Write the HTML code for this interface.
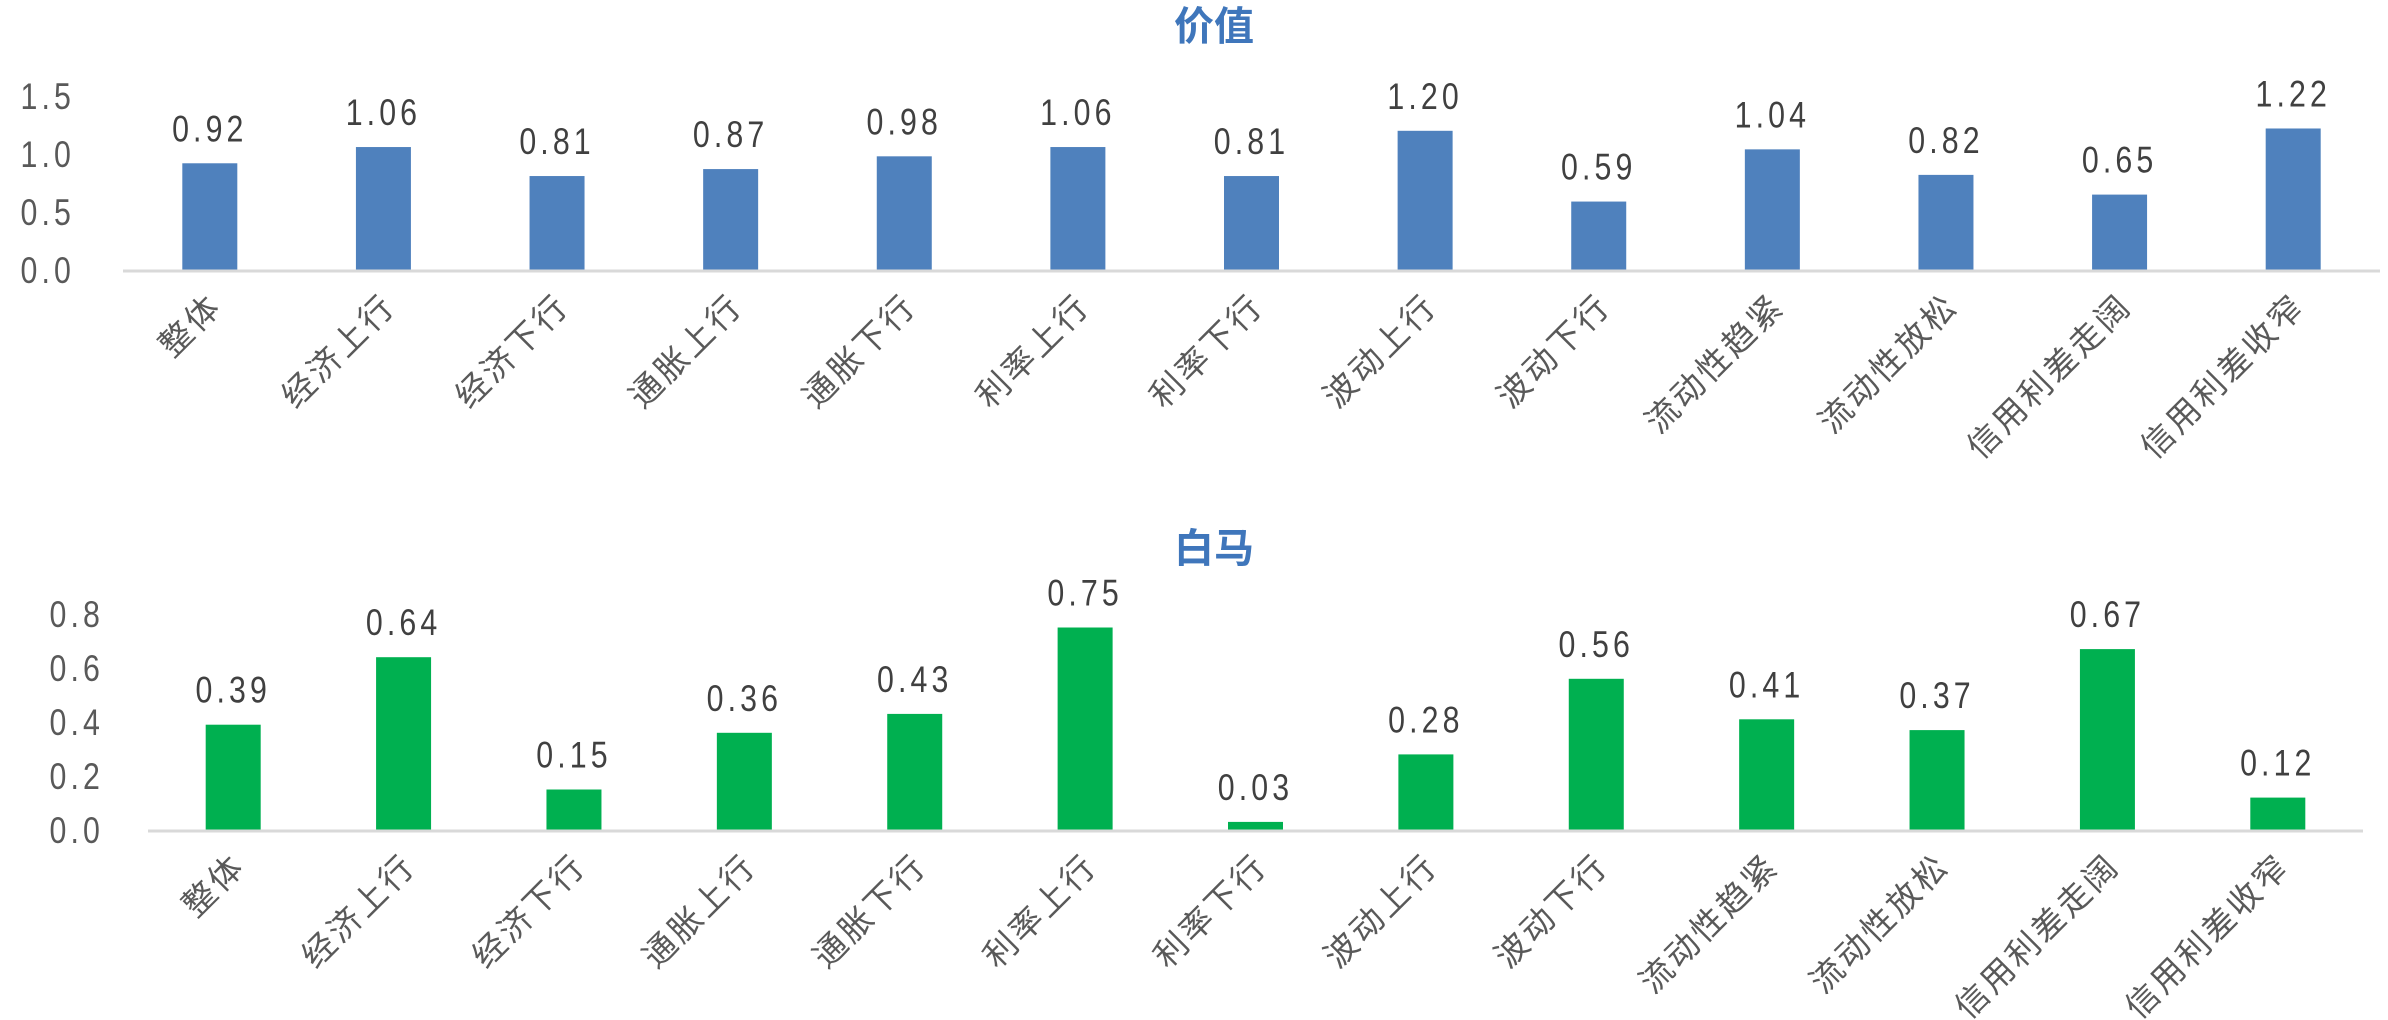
<!DOCTYPE html>
<html><head><meta charset="utf-8"><style>
html,body{margin:0;padding:0;background:#fff;}
svg{display:block;font-family:"Liberation Sans","Noto Sans CJK SC",sans-serif;}
</style></head><body>
<svg id="c" width="2388" height="1020" viewBox="0 0 2388 1020"></svg>
<script>
const categories = ["整体","经济上行","经济下行","通胀上行","通胀下行","利率上行","利率下行","波动上行","波动下行","流动性趋紧","流动性放松","信用利差走阔","信用利差收窄"];
const valueSeries = [0.92,1.06,0.81,0.87,0.98,1.06,0.81,1.20,0.59,1.04,0.82,0.65,1.22];
const whiteHorseSeries = [0.39,0.64,0.15,0.36,0.43,0.75,0.03,0.28,0.56,0.41,0.37,0.67,0.12];
const valueTicks = [0,0.5,1.0,1.5];
const whiteHorseTicks = [0,0.2,0.4,0.6,0.8];

const NS="http://www.w3.org/2000/svg";
const svg=document.getElementById('c');
function mk(tag,attrs,parent){const e=document.createElementNS(NS,tag);for(const k in attrs)e.setAttribute(k,attrs[k]);(parent||svg).appendChild(e);return e;}

function drawPanel(cfg){
  const g=mk('g',{});
  
  
  const yScale=v=>cfg.y0-(v/cfg.yMax)*(cfg.y0-cfg.yTop);
  const band=(cfg.x1-cfg.x0)/cfg.cats.length;
  const xCenter=i=>cfg.x0+band*(i+0.5);
  const t=mk('text',{x:cfg.titleX,y:cfg.titleY,'text-anchor':'middle','font-size':40,'font-weight':'bold',fill:'#3f76bb'},g);
  t.textContent=cfg.title;
  
  
  cfg.ticks.forEach(v=>{
    const tx=mk('text',{x:0,y:0,'text-anchor':'end','font-size':37,fill:'#595959','letter-spacing':5,transform:`translate(${cfg.tickX},${yScale(v)+13}) scale(0.82,1)`},g);
    tx.textContent=v.toFixed(1);
    
    
  });
  cfg.vals.forEach((v,i)=>{
    const cx=xCenter(i);
    const r=mk('rect',{x:cx-27.5,y:yScale(v),width:55,height:cfg.y0-yScale(v),fill:cfg.color},g);
    
    
    const lb=mk('text',{x:0,y:0,'text-anchor':'middle','font-size':37,fill:'#404040','letter-spacing':5,transform:`translate(${cx},${yScale(v)-22}) scale(0.82,1)`},g);
    lb.textContent=v.toFixed(2);
    
    
    const cl=mk('text',{x:0,y:0,'text-anchor':'end','font-size':33,fill:'#595959','letter-spacing':3,transform:`translate(${cx+14},${cfg.y0+38}) rotate(-45)`},g);
    cl.textContent=cfg.cats[i];
    
    
  });
  const ax=mk('line',{x1:cfg.x0,x2:cfg.x1,y1:cfg.y0+1,y2:cfg.y0+1,stroke:'#d9d9d9','stroke-width':3},g);
  
  
}
drawPanel({name:'value',title:'价值',titleX:1214,titleY:40,cats:categories,vals:valueSeries,ticks:valueTicks,yMax:1.5,y0:270,yTop:96,x0:123,x1:2380,tickX:75,color:'#4f81bd'});
drawPanel({name:'white-horse',title:'白马',titleX:1214,titleY:562,cats:categories,vals:whiteHorseSeries,ticks:whiteHorseTicks,yMax:0.8,y0:830,yTop:614,x0:148,x1:2363,tickX:104,color:'#00b050'});
</script>
</body></html>
